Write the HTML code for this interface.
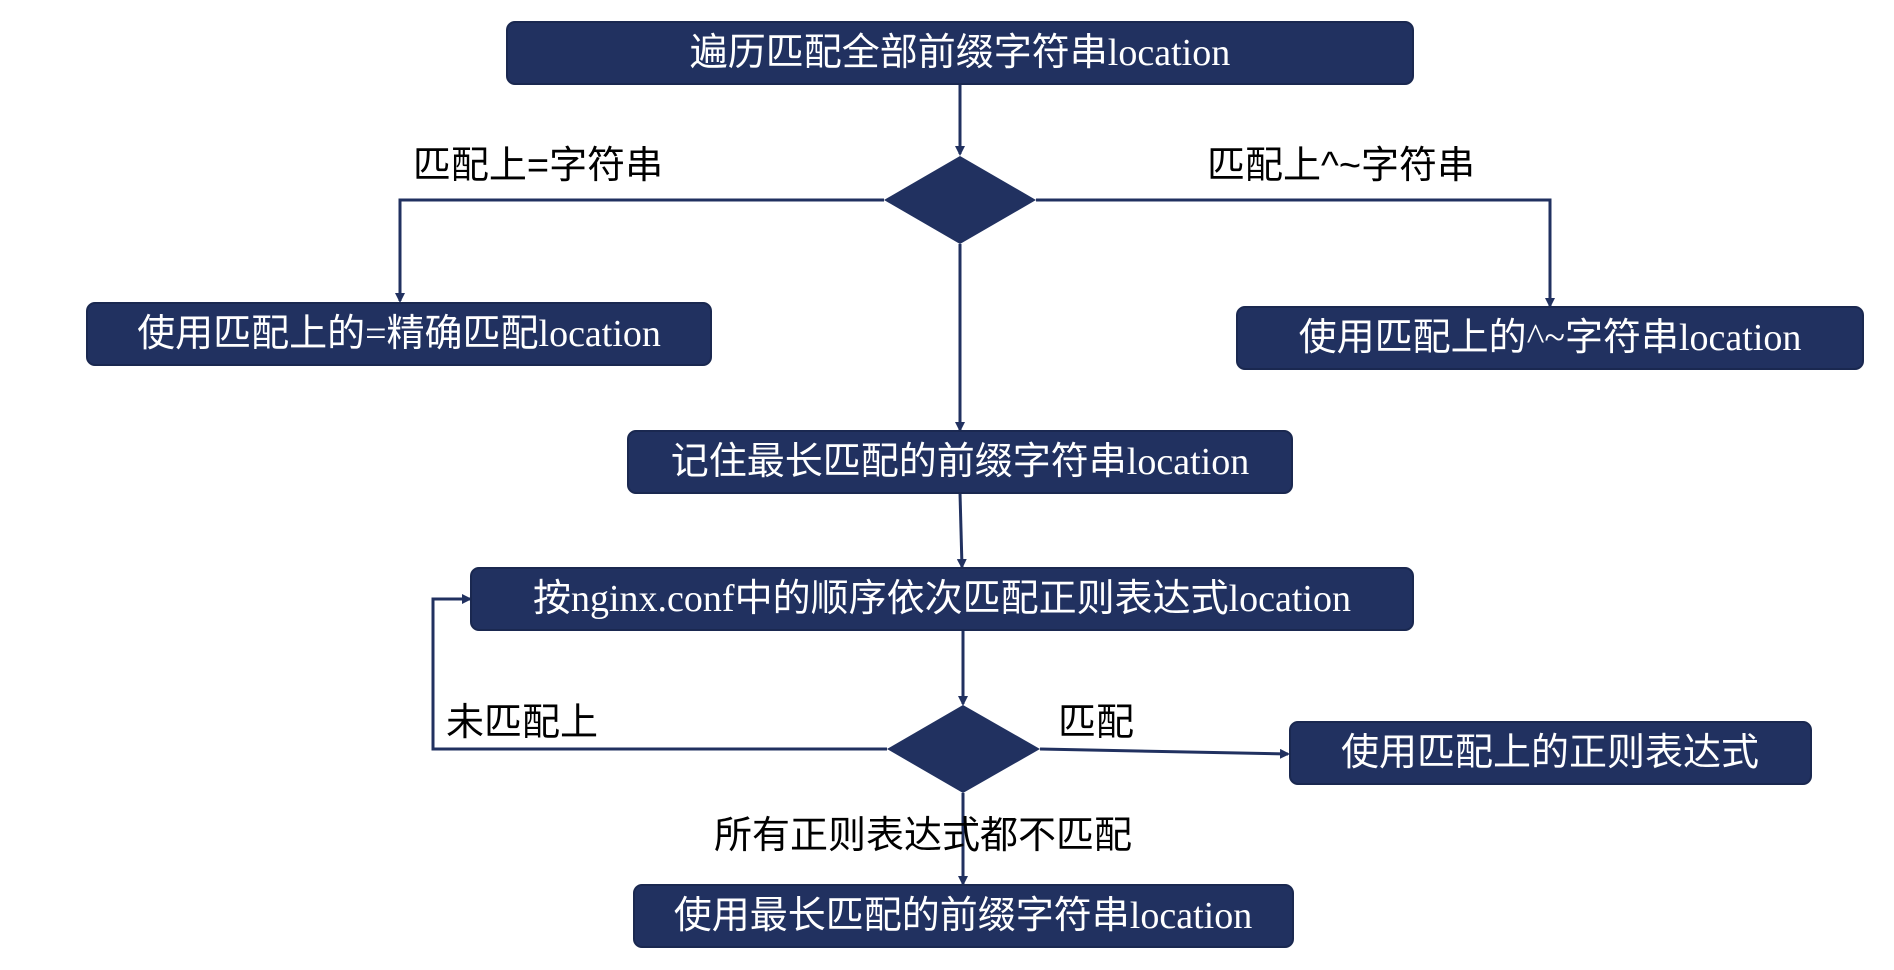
<!DOCTYPE html>
<html><head><meta charset="utf-8"><style>
html,body{margin:0;padding:0;background:#fff;}
svg{display:block}
.bt{fill:#fff;font-family:"Liberation Serif","Noto Sans CJK SC",serif;font-size:38px;text-anchor:middle;dominant-baseline:central}
.lb{fill:#000;font-family:"Liberation Sans","Noto Sans CJK SC",sans-serif;font-size:38px;text-anchor:middle;dominant-baseline:central}
.bx{fill:#213160;stroke:#1a2850;stroke-width:2}
.ln{stroke:#213160;stroke-width:3;fill:none}
</style></head><body>
<svg width="1894" height="970" viewBox="0 0 1894 970" xmlns="http://www.w3.org/2000/svg">
<defs><marker id="a" markerWidth="10" markerHeight="10" refX="8" refY="5" orient="auto" markerUnits="userSpaceOnUse"><path d="M0,0 L10,5 L0,10 Z" fill="#213160"/></marker></defs>
<path class="ln" d="M960,84 L960,154" marker-end="url(#a)"/>
<path class="ln" d="M884,200 L400,200 L400,301" marker-end="url(#a)"/>
<path class="ln" d="M1036,200 L1550,200 L1550,306" marker-end="url(#a)"/>
<path class="ln" d="M960,244 L960,430" marker-end="url(#a)"/>
<path class="ln" d="M960,493 L962,567" marker-end="url(#a)"/>
<path class="ln" d="M963,630 L963,704" marker-end="url(#a)"/>
<path class="ln" d="M887,749 L433,749 L433,599 L470,599" marker-end="url(#a)"/>
<path class="ln" d="M1040,749 L1288,754" marker-end="url(#a)"/>
<path class="ln" d="M963,793 L963,884" marker-end="url(#a)"/>
<polygon points="960,156 1036,200 960,244 884,200" fill="#213160"/>
<polygon points="963,705 1040,749 963,793 887,749" fill="#213160"/>
<rect class="bx" x="507" y="22" width="906" height="62" rx="8"/>
<text class="bt" x="960" y="53">遍历匹配全部前缀字符串location</text>
<rect class="bx" x="87" y="303" width="624" height="62" rx="8"/>
<text class="bt" x="399" y="334">使用匹配上的=精确匹配location</text>
<rect class="bx" x="1237" y="307" width="626" height="62" rx="8"/>
<text class="bt" x="1550" y="338">使用匹配上的^~字符串location</text>
<rect class="bx" x="628" y="431" width="664" height="62" rx="8"/>
<text class="bt" x="960" y="462">记住最长匹配的前缀字符串location</text>
<rect class="bx" x="471" y="568" width="942" height="62" rx="8"/>
<text class="bt" x="942" y="599">按nginx.conf中的顺序依次匹配正则表达式location</text>
<rect class="bx" x="1290" y="722" width="521" height="62" rx="8"/>
<text class="bt" x="1550" y="753">使用匹配上的正则表达式</text>
<rect class="bx" x="634" y="885" width="659" height="62" rx="8"/>
<text class="bt" x="963" y="916">使用最长匹配的前缀字符串location</text>
<text class="lb" x="538" y="166">匹配上=字符串</text>
<text class="lb" x="1341" y="166">匹配上^~字符串</text>
<text class="lb" x="522" y="723">未匹配上</text>
<text class="lb" x="1096" y="723">匹配</text>
<text class="lb" x="923" y="836">所有正则表达式都不匹配</text>
</svg>
</body></html>
